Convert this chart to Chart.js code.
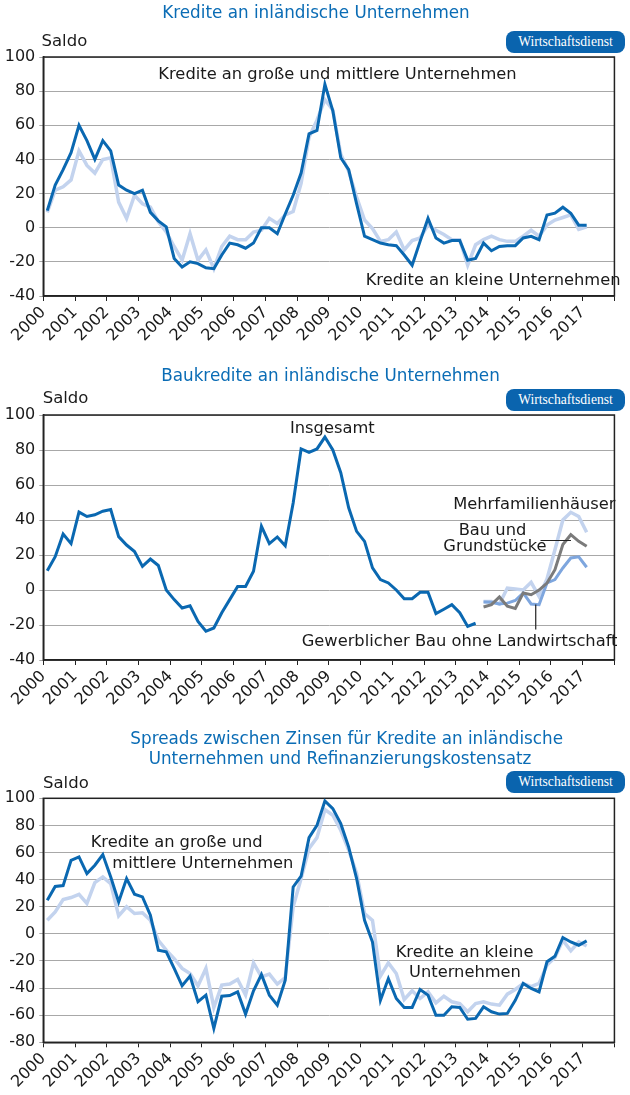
<!DOCTYPE html>
<html>
<head>
<meta charset="utf-8">
<script src="https://cdn.jsdelivr.net/npm/chart.js@4"></script>
<style>
body{margin:0;width:630px;height:1095px;position:relative;background:#fff;font-family:"DejaVu Sans";overflow:hidden;color:#1a1a1a}
canvas{position:absolute;left:0;z-index:0}
.t{position:absolute;white-space:nowrap;line-height:1;transform:translateY(-50%);z-index:1;font-size:16.3px}
.title{color:#0a6cb5;font-size:16.8px}
.c{transform:translate(-50%,-50%)}
.r{transform:translate(-100%,-50%)}
.badge{position:absolute;left:506px;width:119px;height:22px;line-height:22px;background:#0a64ae;color:#fff;border-radius:8px;font-family:"Liberation Serif";font-size:13.6px;text-align:center;z-index:1}
</style>
</head>
<body>
<canvas id="c1" width="630" height="355" style="top:0"></canvas>
<canvas id="c2" width="630" height="365" style="top:355px"></canvas>
<canvas id="c3" width="630" height="375" style="top:720px"></canvas>

<div class="t title c" style="left:316px;top:12px">Kredite an inländische Unternehmen</div>
<div class="t" style="left:41.5px;top:40.5px;font-size:16.5px">Saldo</div>
<div class="badge" style="top:31px">Wirtschaftsdienst</div>
<div class="t c" style="left:337.5px;top:74px">Kredite an große und mittlere Unternehmen</div>
<div class="t r" style="left:620.5px;top:280px">Kredite an kleine Unternehmen</div>

<div class="t title c" style="left:330.5px;top:375px">Baukredite an inländische Unternehmen</div>
<div class="t" style="left:42.7px;top:398.3px;font-size:16.5px">Saldo</div>
<div class="badge" style="top:388.5px">Wirtschaftsdienst</div>
<div class="t" style="left:290px;top:428px">Insgesamt</div>
<div class="t r" style="left:615.5px;top:503.5px">Mehrfamilienhäuser</div>
<div class="t c" style="left:492.5px;top:530.3px">Bau und</div>
<div class="t c" style="left:495px;top:546.3px">Grundstücke</div>
<div class="t r" style="left:617.5px;top:640.5px">Gewerblicher Bau ohne Landwirtschaft</div>

<div class="t title c" style="left:346.7px;top:738px">Spreads zwischen Zinsen für Kredite an inländische</div>
<div class="t title c" style="left:340px;top:758.3px">Unternehmen und Refinanzierungskostensatz</div>
<div class="t" style="left:43px;top:782.5px;font-size:16.5px">Saldo</div>
<div class="badge" style="top:770.5px">Wirtschaftsdienst</div>
<div class="t" style="left:90.7px;top:841.7px">Kredite an große und</div>
<div class="t" style="left:112.3px;top:863.3px">mittlere Unternehmen</div>
<div class="t" style="left:395.7px;top:951.7px">Kredite an kleine</div>
<div class="t c" style="left:465px;top:971.7px">Unternehmen</div>

<script>
// Quartale 2000Q1 .. 2017Q1
const quarters = [];
for (let y = 2000; y <= 2017; y++) for (let q = 1; q <= 4; q++) quarters.push(y + 'Q' + q);
quarters.length = 69;
const xPos = quarters.map(s => +s.slice(0, 4) + (+s.slice(5) - 0.5) / 4);

const yearMin = 2000, yearMax = 2018;

// Kredite an inländische Unternehmen
const kreditGross = [10,25,34,44, 60,51,40,51, 45,25,22,20, 22,9,4,0.5, -18,-23,-20,-21, -23.5,-24,-16,-9,
  -10,-12,-9,0, 0,-3.5,8,19, 32,55,57,84, 68.5,41,34,14, -5,-7,-9,-10, -10.5,-16,-22,-8,
  5.5,-6,-9,-7.5, -7.5,-19,-18,-9, -13.5,-11,-10.5,-10.5, -6,-5,-7,7.5, 8.5,12,8.5,1.5, 1.5];
const kreditKlein = [9,22,24,28, 45,36.5,32,40, 41,15,5.5,19, 14,12,3.5,-2.5, -11,-19,-3.5,-19, -13,-24,-11,-5,
  -7,-7,-2.5,-1.5, 5.5,2.5,7.5,9.5, 26,53,63,75, 69,43,33,18, 4.5,-0.5,-8,-7, -2.5,-13,-7.5,-6,
  1.5,-1.5,-4,-7, -7,-22,-10,-7, -5,-7,-8,-8, -5,-1.5,-5,1.5, 4.5,6,7.5,-1, 0.5];

// Baukredite (Insgesamt bis 2013Q3, Teilreihen ab 2013Q4)
const bauInsgesamt = [11,19,32,26.5, 44.5,42,43,45, 46,30.5,25.7,22, 13.5,17.7,14,0, -5.5,-10.3,-9,-18,
  -23.6,-21.7,-13,-5.5, 2,2,10.7,36.4, 26.5,30.3,25.3,49.7, 80.6,78.7,80.6,87.4, 80,67,47,33.5,
  27.8,12.6,6,4, 0,-5,-5,-1.3, -1.3,-13.5,-11,-8.4, -13,-20.8,-19];
const teilStart = 55;
const bauGewerblich = [-6.9, -7,-8,-7.5,-6, -1.7,-8,-8.4,4, 6,12.6,18.3,19, 13];
const bauGrundstuecke = [-9.7, -8.4,-4,-9.3,-10.5, -1.7,-2.7,0,4, 11.6,26,31.6,27.8, 25];
const bauMehrfamilien = [-6.5, -6.5,-8,1.1,0.6, 0,4.4,-3.6,6.3, 23,40,44.4,42, 33];

// Spreads
const spreadGross = [24.8,35,35.6,54.3, 56.8,44.5,50.6,58.5, 42,23.6,40.8,29.2, 27.3,13.8,-12,-13.3,
  -25.5,-38.3,-31.2,-50, -45.2,-69.8,-46,-45.5, -42.8,-59.2,-42,-30, -45.2,-52.6,-34.2,34.6,
  42.5,71,80,98, 92.4,81.3,64,40.8, 10,-6,-49,-33, -47.7,-54.3,-54.3,-41, -45.2,-60,-60,-53.8,
  -54.3,-63,-62.4,-53.8, -57.5,-59.2,-58.7,-49, -36.6,-40.3,-42.8,-20.6, -16.5,-2.7,-6,-8.4, -5.2];
const spreadKlein = [10,16.2,25.3,26.8, 29.2,22.4,37.8,42, 37,13.3,20,15, 15.5,10,-4.7,-12,
  -18.2,-25.5,-29.2,-38.3, -25.5,-54.3,-37.8,-37, -33.7,-45.2,-21.4,-31.7, -29.7,-37,-32.2,20,
  40.8,63,71,91.6, 87.5,76.4,61.7,44.5, 15,10,-31.2,-21.4, -29.2,-48.4,-42,-47.7, -42.8,-50.9,-46,-50.1,
  -51.4,-57.5,-51.4,-50.1, -51.8,-52.6,-44.5,-41, -36.6,-39,-36.6,-23, -17.4,-4.7,-12.5,-6, -9];

const DARK = '#0a68b1', LIGHT = '#c3d3ee', MID = '#7ea6de', GREY = '#7b7b7b';
const FONT = { family: 'DejaVu Sans', size: 16 };

function pts(vals, start) {
  return vals.map((v, i) => ({ x: xPos[(start || 0) + i], y: v }));
}
function line(label, vals, color, width, start) {
  return { label, data: pts(vals, start), borderColor: color, borderWidth: width,
    pointRadius: 0, tension: 0, fill: false };
}

const frame = {
  id: 'frame',
  beforeDatasetsDraw(c) {
    const a = c.chartArea, ctx = c.ctx;
    ctx.save();
    ctx.strokeStyle = '#222';
    ctx.lineWidth = 1.5;
    ctx.strokeRect(a.left, a.top, a.right - a.left, a.bottom - a.top);
    ctx.restore();
  }
};

const leaders = {
  id: 'leaders',
  afterDatasetsDraw(c) {
    const xs = c.scales.x, ys = c.scales.y, ctx = c.ctx;
    ctx.save();
    ctx.strokeStyle = '#222';
    ctx.lineWidth = 1.2;
    ctx.beginPath();
    ctx.moveTo(xs.getPixelForValue(2015.67), ys.getPixelForValue(28.3));
    ctx.lineTo(xs.getPixelForValue(2016.63), ys.getPixelForValue(28.3));
    ctx.moveTo(xs.getPixelForValue(2015.52), ys.getPixelForValue(-8.3));
    ctx.lineTo(xs.getPixelForValue(2015.52), ys.getPixelForValue(-22.5));
    ctx.stroke();
    ctx.restore();
  }
};

function makeChart(id, padTop, axisH, yMin, yMax, datasets, extra) {
  return new Chart(document.getElementById(id), {
    type: 'line',
    data: { datasets },
    options: {
      responsive: false,
      animation: false,
      events: [],
      layout: { padding: { top: padTop, right: 5, left: 0, bottom: 0 } },
      plugins: { legend: { display: false }, tooltip: { enabled: false } },
      scales: {
        x: {
          type: 'linear', min: yearMin, max: yearMax,
          afterFit(s) { s.height = axisH; },
          ticks: { stepSize: 1, autoSkip: false, minRotation: 45, maxRotation: 45, padding: 2,
            color: '#1a1a1a', font: FONT, callback: v => v < yearMax ? String(v) : '' },
          grid: { drawOnChartArea: false, tickLength: 5, color: '#222', lineWidth: 1 },
          border: { color: '#222', width: 1.5 }
        },
        y: {
          min: yMin, max: yMax,
          afterFit(s) { s.width = 43.3; },
          ticks: { stepSize: 20, padding: 4, color: '#1a1a1a', font: FONT, callback: v => String(v) },
          grid: { color: '#a8a8a8', lineWidth: 1, tickLength: 4 },
          border: { color: '#222', width: 1.5 }
        }
      }
    },
    plugins: [frame].concat(extra || [])
  });
}

makeChart('c1', 57, 59, -40, 100, [
  line('Kredite an große und mittlere Unternehmen', kreditGross, DARK, 3),
  line('Kredite an kleine Unternehmen', kreditKlein, LIGHT, 3.5)
]);

makeChart('c2', 60, 60, -40, 100, [
  line('Insgesamt', bauInsgesamt, DARK, 3),
  line('Bau und Grundstücke', bauGrundstuecke, GREY, 3, teilStart),
  line('Gewerblicher Bau ohne Landwirtschaft', bauGewerblich, MID, 3, teilStart),
  line('Mehrfamilienhäuser', bauMehrfamilien, LIGHT, 3.5, teilStart)
], [leaders]);

makeChart('c3', 78.3, 52.7, -80, 100, [
  line('Kredite an große und mittlere Unternehmen', spreadGross, DARK, 3),
  line('Kredite an kleine Unternehmen', spreadKlein, LIGHT, 3.5)
]);
</script>
</body>
</html>
